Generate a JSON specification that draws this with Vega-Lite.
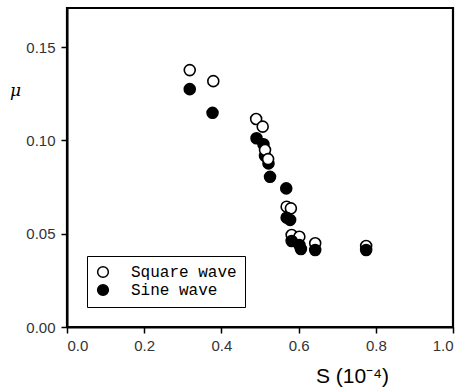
{
  "$schema": "https://vega.github.io/schema/vega-lite/v6.json",
  "width": 386,
  "height": 319,
  "autosize": {"type": "none"},
  "padding": {"left": 67, "top": 8, "right": 11, "bottom": 60},
  "background": "white",
  "config": {
    "view": {"stroke": "black", "strokeWidth": 2.2},
    "axis": {
      "grid": false,
      "labelFont": "Liberation Sans",
      "labelFontSize": 15,
      "labelColor": "#333",
      "titleColor": "black"
    }
  },
  "data": {
    "values": [
      {"S": 0.318, "mu": 0.1377, "wave": "Square wave"},
      {"S": 0.379, "mu": 0.1318, "wave": "Square wave"},
      {"S": 0.490, "mu": 0.1115, "wave": "Square wave"},
      {"S": 0.507, "mu": 0.1074, "wave": "Square wave"},
      {"S": 0.569, "mu": 0.0645, "wave": "Square wave"},
      {"S": 0.580, "mu": 0.0636, "wave": "Square wave"},
      {"S": 0.582, "mu": 0.0493, "wave": "Square wave"},
      {"S": 0.602, "mu": 0.0484, "wave": "Square wave"},
      {"S": 0.643, "mu": 0.0449, "wave": "Square wave"},
      {"S": 0.775, "mu": 0.0434, "wave": "Square wave"},
      {"S": 0.318, "mu": 0.1275, "wave": "Sine wave"},
      {"S": 0.377, "mu": 0.1148, "wave": "Sine wave"},
      {"S": 0.491, "mu": 0.1012, "wave": "Sine wave"},
      {"S": 0.509, "mu": 0.0980, "wave": "Sine wave"},
      {"S": 0.513, "mu": 0.0917, "wave": "Sine wave"},
      {"S": 0.522, "mu": 0.0877, "wave": "Sine wave"},
      {"S": 0.526, "mu": 0.0805, "wave": "Sine wave"},
      {"S": 0.568, "mu": 0.0743, "wave": "Sine wave"},
      {"S": 0.569, "mu": 0.0586, "wave": "Sine wave"},
      {"S": 0.578, "mu": 0.0574, "wave": "Sine wave"},
      {"S": 0.582, "mu": 0.0461, "wave": "Sine wave"},
      {"S": 0.602, "mu": 0.0440, "wave": "Sine wave"},
      {"S": 0.606, "mu": 0.0418, "wave": "Sine wave"},
      {"S": 0.643, "mu": 0.0413, "wave": "Sine wave"},
      {"S": 0.775, "mu": 0.0413, "wave": "Sine wave"},
      {"S": 0.513, "mu": 0.0949, "wave": "Square wave"},
      {"S": 0.521, "mu": 0.0900, "wave": "Square wave"}
    ]
  },
  "mark": {"type": "point", "shape": "circle", "size": 120, "strokeWidth": 1.6, "stroke": "black", "opacity": 1},
  "encoding": {
    "x": {
      "field": "S", "type": "quantitative",
      "scale": {"domain": [0, 1], "nice": false},
      "axis": {
        "values": [0, 0.2, 0.4, 0.6, 0.8, 1.0],
        "format": ".1f",
        "domain": true,
        "domainColor": "black",
        "domainWidth": 2,
        "ticks": true,
        "tickColor": "black",
        "tickSize": 6,
        "tickWidth": 1.5,
        "labelPadding": 5,
        "title": "S (10⁻⁴)",
        "titleFont": "Liberation Sans",
        "titleFontSize": 21,
        "titleFontWeight": "normal",
        "titleAlign": "center",
        "titleBaseline": "alphabetic",
        "titleAnchor": null,
        "titleX": 285,
        "titleY": 55
      }
    },
    "y": {
      "field": "mu", "type": "quantitative",
      "scale": {"domain": [0, 0.171], "nice": false, "zero": true},
      "axis": {
        "values": [0, 0.05, 0.1, 0.15],
        "format": ".2f",
        "domain": true,
        "domainColor": "black",
        "domainWidth": 2,
        "ticks": true,
        "tickColor": "black",
        "tickSize": 6,
        "tickWidth": 1.5,
        "labelPadding": 6,
        "title": "μ",
        "titleFont": "DejaVu Serif",
        "titleFontStyle": "italic",
        "titleFontSize": 17,
        "titleFontWeight": "normal",
        "titleAngle": 0,
        "titleAlign": "center",
        "titleBaseline": "middle",
        "titleAnchor": null,
        "titleX": -52,
        "titleY": 82
      }
    },
    "fill": {
      "field": "wave", "type": "nominal",
      "scale": {"domain": ["Square wave", "Sine wave"], "range": ["white", "black"]},
      "legend": {
        "title": null,
        "orient": "none",
        "legendX": 20,
        "legendY": 248,
        "padding": 8,
        "strokeColor": "black",
        "fillColor": "white",
        "symbolType": "circle",
        "symbolSize": 115,
        "symbolStrokeColor": "black",
        "symbolStrokeWidth": 1.5,
        "labelFont": "Liberation Mono",
        "labelFontSize": 16,
        "labelColor": "black",
        "labelOffset": 20,
        "rowPadding": 0
      }
    }
  }
}
